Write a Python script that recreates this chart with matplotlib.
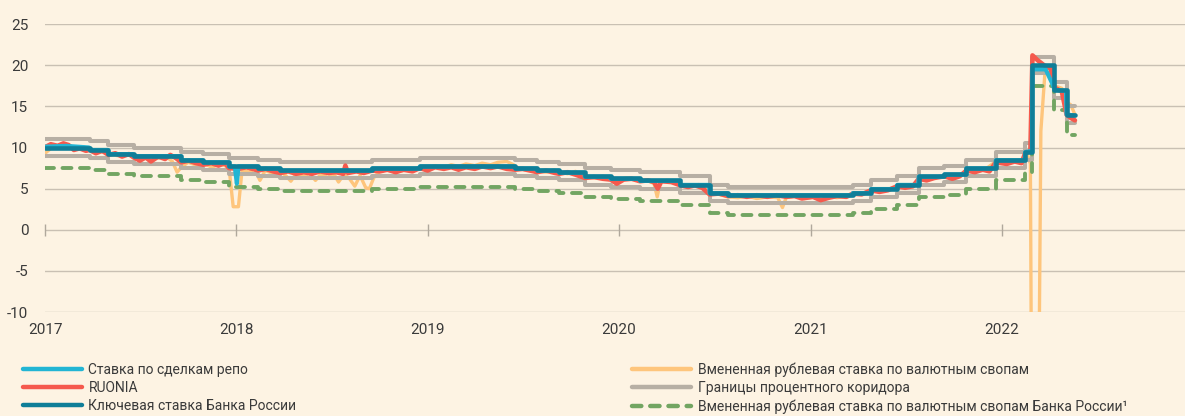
import matplotlib
matplotlib.use("Agg")
import matplotlib.pyplot as plt
import matplotlib.lines as mlines
import pandas as pd

# key rate and corridor (step series)
key_dates = ["2017-01-01", "2017-03-27", "2017-05-02", "2017-06-19", "2017-09-18", "2017-10-30",
             "2017-12-18", "2018-02-12", "2018-03-26", "2018-09-17", "2018-12-17", "2019-06-17",
             "2019-07-29", "2019-09-09", "2019-10-28", "2019-12-16", "2020-02-10", "2020-04-27",
             "2020-06-22", "2020-07-27", "2021-03-22", "2021-04-26", "2021-06-15", "2021-07-26",
             "2021-09-13", "2021-10-25", "2021-12-20", "2022-02-14", "2022-02-28", "2022-04-11",
             "2022-05-04", "2022-05-20"]
key_rate = [10.0, 9.75, 9.25, 9.0, 8.5, 8.25, 7.75, 7.5, 7.25, 7.5, 7.75, 7.5, 7.25, 7.0, 6.5, 6.25,
            6.0, 5.5, 4.5, 4.25, 4.5, 5.0, 5.5, 6.5, 6.75, 7.5, 8.5, 9.5, 20.0, 17.0, 14.0, 14.0]
corridor_upper = [11.0, 10.75, 10.25, 10.0, 9.5, 9.25, 8.75, 8.5, 8.25, 8.5, 8.75, 8.5, 8.25, 8.0, 7.5,
                  7.25, 7.0, 6.5, 5.5, 5.25, 5.5, 6.0, 6.5, 7.5, 7.75, 8.5, 9.5, 10.5, 21.0, 18.0, 15.0, 15.0]
corridor_lower = [9.0, 8.75, 8.25, 8.0, 7.5, 7.25, 6.75, 6.5, 6.25, 6.5, 6.75, 6.5, 6.25, 6.0, 5.5,
                  5.25, 5.0, 4.5, 3.5, 3.25, 3.5, 4.0, 4.5, 5.5, 5.75, 6.5, 7.5, 8.5, 19.0, 16.0, 13.0, 13.0]
cbr_swap = [7.5, 7.25, 6.75, 6.5, 6.0, 5.75, 5.25, 5.0, 4.75, 5.0, 5.25, 5.0, 4.75, 4.5, 4.0, 3.75,
            3.5, 3.0, 2.0, 1.75, 2.0, 2.5, 3.0, 4.0, 4.25, 5.0, 6.0, 7.0, 17.5, 14.5, 11.5, 11.5]

# repo rate
repo_dates = ["2017-01-01", "2017-02-10", "2017-03-26", "2017-03-27", "2017-05-01", "2017-05-02",
              "2017-06-18", "2017-06-19", "2017-09-17", "2017-09-18", "2017-10-29", "2017-10-30",
              "2017-12-17", "2017-12-18", "2017-12-29", "2018-01-02", "2018-01-05", "2018-02-11",
              "2018-02-12", "2018-03-25", "2018-03-26", "2018-09-16", "2018-09-17", "2018-12-16",
              "2018-12-17", "2019-06-16", "2019-06-17", "2019-07-28", "2019-07-29", "2019-09-08",
              "2019-09-09", "2019-10-27", "2019-10-28", "2019-12-15", "2019-12-16", "2020-02-09",
              "2020-02-10", "2020-04-26", "2020-04-27", "2020-06-21", "2020-06-22", "2020-07-26",
              "2020-07-27", "2021-03-21", "2021-03-22", "2021-04-25", "2021-04-26", "2021-06-14",
              "2021-06-15", "2021-07-25", "2021-07-26", "2021-09-12", "2021-09-13", "2021-10-24",
              "2021-10-25", "2021-12-19", "2021-12-20", "2022-02-13", "2022-02-14", "2022-02-27",
              "2022-02-28", "2022-03-25", "2022-04-08", "2022-04-11", "2022-05-03", "2022-05-04",
              "2022-05-20"]
repo_rate = [10.1, 10.2, 10.0, 9.7, 9.7, 9.2, 9.2, 8.95, 8.95, 8.45, 8.45, 8.2, 8.2, 7.7, 7.7, 5.6,
             7.7, 7.7, 7.45, 7.45, 7.2, 7.2, 7.45, 7.45, 7.7, 7.7, 7.45, 7.45, 7.2, 7.2, 6.95, 6.95,
             6.45, 6.45, 6.2, 6.2, 5.95, 5.95, 5.45, 5.45, 4.45, 4.45, 4.2, 4.2, 4.45, 4.45, 4.95,
             4.95, 5.45, 5.45, 6.45, 6.45, 6.7, 6.7, 7.45, 7.45, 8.45, 8.45, 9.45, 9.6, 19.5, 19.5,
             17.6, 17.0, 16.9, 14.0, 13.9]

# RUONIA
ruonia_dates = ["2017-01-03", "2017-01-12", "2017-01-25", "2017-02-05", "2017-02-15", "2017-02-25",
                "2017-03-08", "2017-03-20", "2017-03-27", "2017-04-08", "2017-04-20", "2017-05-02",
                "2017-05-15", "2017-05-28", "2017-06-10", "2017-06-19", "2017-07-01", "2017-07-12",
                "2017-07-22", "2017-08-05", "2017-08-18", "2017-08-28", "2017-09-08", "2017-09-18",
                "2017-10-02", "2017-10-16", "2017-10-30", "2017-11-14", "2017-11-28", "2017-12-10",
                "2017-12-18", "2018-01-05", "2018-01-20", "2018-02-01", "2018-02-12", "2018-02-26",
                "2018-03-12", "2018-03-26", "2018-04-10", "2018-04-25", "2018-05-10", "2018-05-25",
                "2018-06-10", "2018-06-25", "2018-07-10", "2018-07-24", "2018-07-28", "2018-08-02",
                "2018-08-18", "2018-09-01", "2018-09-17", "2018-10-02", "2018-10-16", "2018-11-01",
                "2018-11-16", "2018-12-03", "2018-12-17", "2019-01-01", "2019-01-15", "2019-02-01",
                "2019-02-15", "2019-03-01", "2019-03-15", "2019-04-01", "2019-04-15", "2019-05-01",
                "2019-05-15", "2019-06-01", "2019-06-17", "2019-07-01", "2019-07-15", "2019-07-29",
                "2019-08-15", "2019-09-01", "2019-09-09", "2019-09-25", "2019-10-10", "2019-10-28",
                "2019-11-15", "2019-12-01", "2019-12-16", "2019-12-28", "2020-01-10", "2020-01-25",
                "2020-02-10", "2020-02-25", "2020-03-08", "2020-03-15", "2020-03-22", "2020-04-10",
                "2020-04-27", "2020-05-12", "2020-05-25", "2020-06-08", "2020-06-22", "2020-07-10",
                "2020-07-27", "2020-08-15", "2020-09-01", "2020-09-20", "2020-10-10", "2020-10-28",
                "2020-11-15", "2020-12-01", "2020-12-15", "2021-01-05", "2021-01-20", "2021-02-05",
                "2021-02-20", "2021-03-10", "2021-03-22", "2021-04-08", "2021-04-26", "2021-05-12",
                "2021-05-28", "2021-06-15", "2021-06-30", "2021-07-15", "2021-07-26", "2021-08-10",
                "2021-08-25", "2021-09-13", "2021-09-28", "2021-10-12", "2021-10-25", "2021-11-10",
                "2021-11-25", "2021-12-08", "2021-12-20", "2022-01-10", "2022-01-25", "2022-02-07",
                "2022-02-14", "2022-02-24", "2022-02-28", "2022-03-10", "2022-03-22", "2022-04-04",
                "2022-04-11", "2022-04-25", "2022-05-04", "2022-05-12", "2022-05-20"]
ruonia = [10.1, 10.4, 10.2, 10.5, 10.3, 9.7, 9.9, 9.6, 9.7, 9.3, 9.6, 9.1, 9.3, 8.9, 9.2, 8.8, 8.4,
          8.8, 8.3, 8.9, 8.6, 9.1, 8.7, 8.2, 8.4, 8.1, 7.9, 8.1, 7.8, 8.1, 7.5, 7.4, 7.6, 7.4, 7.2,
          7.4, 7.1, 6.9, 7.1, 6.8, 7.0, 6.8, 7.1, 6.9, 7.0, 6.8, 7.8, 6.9, 7.1, 6.9, 7.2, 7.1, 7.3,
          7.0, 7.3, 7.1, 7.5, 7.2, 7.6, 7.4, 7.6, 7.3, 7.6, 7.4, 7.7, 7.5, 7.7, 7.4, 7.3, 7.4, 7.2,
          7.0, 7.2, 6.9, 6.8, 7.0, 6.7, 6.3, 6.4, 6.2, 6.1, 5.6, 6.1, 6.2, 5.9, 6.0, 5.8, 5.0, 5.9,
          5.8, 5.4, 5.2, 5.4, 5.1, 4.3, 4.4, 4.1, 4.2, 4.0, 4.2, 4.0, 4.2, 4.0, 4.1, 3.8, 4.0, 3.6,
          3.9, 4.1, 4.0, 4.4, 4.3, 4.8, 4.6, 4.8, 5.3, 5.1, 5.3, 6.2, 6.0, 6.3, 6.5, 6.2, 6.5, 7.2,
          7.0, 7.3, 7.1, 8.2, 8.0, 8.3, 8.1, 9.3, 9.6, 21.2, 20.6, 20.0, 19.6, 17.3, 16.8, 14.0,
          13.6, 13.3]

# implied ruble rate from FX swaps
swap_dates = ["2017-01-03", "2017-01-16", "2017-02-01", "2017-02-15", "2017-03-01", "2017-03-15",
              "2017-03-27", "2017-04-12", "2017-04-28", "2017-05-03", "2017-05-20", "2017-06-05",
              "2017-06-19", "2017-07-05", "2017-07-20", "2017-08-05", "2017-08-20", "2017-09-01",
              "2017-09-10", "2017-09-18", "2017-10-01", "2017-10-15", "2017-10-30", "2017-11-15",
              "2017-12-01", "2017-12-18", "2017-12-26", "2018-01-05", "2018-01-12", "2018-01-25",
              "2018-02-05", "2018-02-15", "2018-02-25", "2018-03-10", "2018-03-26", "2018-04-05",
              "2018-04-15", "2018-04-25", "2018-05-10", "2018-05-20", "2018-06-01", "2018-06-12",
              "2018-06-25", "2018-07-05", "2018-07-15", "2018-07-25", "2018-08-05", "2018-08-15",
              "2018-08-25", "2018-09-05", "2018-09-12", "2018-09-20", "2018-10-01", "2018-10-15",
              "2018-11-01", "2018-11-15", "2018-12-01", "2018-12-17", "2019-01-01", "2019-01-15",
              "2019-02-01", "2019-02-15", "2019-03-01", "2019-03-15", "2019-04-01", "2019-04-15",
              "2019-05-01", "2019-05-15", "2019-06-01", "2019-06-14", "2019-06-20", "2019-07-05",
              "2019-07-20", "2019-07-30", "2019-08-15", "2019-08-30", "2019-09-10", "2019-09-25",
              "2019-10-10", "2019-10-28", "2019-11-15", "2019-12-01", "2019-12-16", "2020-01-01",
              "2020-01-15", "2020-02-01", "2020-02-10", "2020-02-25", "2020-03-08", "2020-03-14",
              "2020-03-20", "2020-04-01", "2020-04-15", "2020-04-28", "2020-05-15", "2020-06-01",
              "2020-06-15", "2020-06-22", "2020-07-10", "2020-07-27", "2020-08-15", "2020-09-01",
              "2020-09-20", "2020-10-10", "2020-10-30", "2020-11-08", "2020-11-15", "2020-12-01",
              "2020-12-20", "2021-01-10", "2021-02-01", "2021-02-20", "2021-03-10", "2021-03-22",
              "2021-04-10", "2021-04-26", "2021-05-15", "2021-06-01", "2021-06-15", "2021-07-01",
              "2021-07-15", "2021-07-26", "2021-08-10", "2021-08-25", "2021-09-13", "2021-10-01",
              "2021-10-15", "2021-10-25", "2021-11-15", "2021-12-01", "2021-12-20", "2022-01-10",
              "2022-01-25", "2022-02-10", "2022-02-18", "2022-02-24", "2022-02-28", "2022-03-09",
              "2022-03-16", "2022-03-24", "2022-04-05", "2022-04-11", "2022-04-25", "2022-05-04",
              "2022-05-12", "2022-05-20"]
swap_rate = [9.4, 10.1, 10.3, 10.0, 9.8, 10.1, 9.7, 9.4, 9.6, 9.2, 9.0, 9.2, 8.9, 8.6, 8.9, 8.7,
             8.9, 8.3, 7.0, 7.6, 8.2, 7.9, 8.1, 7.6, 8.0, 7.6, 2.8, 2.8, 7.3, 7.0, 7.4, 6.0, 7.2, 6.9,
             7.1, 6.6, 5.9, 6.8, 6.5, 6.9, 6.0, 6.8, 6.3, 6.9, 5.8, 6.7, 6.2, 5.3, 6.6, 5.1, 5.0, 6.3,
             7.1, 7.3, 7.0, 7.2, 7.3, 7.6, 7.5, 7.8, 7.6, 7.9, 7.7, 8.0, 7.8, 8.1, 7.9, 8.2, 8.3, 7.9,
             7.6, 7.3, 7.5, 7.2, 7.0, 7.3, 7.0, 6.8, 7.1, 6.5, 6.3, 6.5, 6.2, 6.1, 6.3, 6.1, 5.9, 6.0,
             5.6, 4.0, 5.8, 6.0, 5.9, 5.5, 5.3, 5.5, 5.2, 4.4, 4.3, 4.0, 3.9, 4.1, 3.8, 4.0, 3.9, 2.7,
             3.9, 4.1, 3.8, 4.0, 4.1, 3.9, 4.1, 4.3, 4.4, 4.8, 4.7, 4.9, 5.3, 5.4, 5.2, 6.2, 6.0, 6.3,
             6.5, 6.4, 6.6, 7.3, 7.2, 7.4, 8.3, 8.2, 8.4, 8.3, 9.2, 8.0, -45.0, -45.0, 12.0, 19.3,
             19.8, 17.5, 17.2, 15.5, 15.2, 14.0]

labels_left = ["Ставка по сделкам репо", "RUONIA", "Ключевая ставка Банка России"]
labels_right = ["Вмененная рублевая ставка по валютным свопам", "Границы процентного коридора",
                "Вмененная рублевая ставка по валютным свопам Банка России¹"]
years = [2017, 2018, 2019, 2020, 2021, 2022]
y_ticks = [-10, -5, 0, 5, 10, 15, 20, 25]

BG = "#FDF3E3"
GRID = "#C9C0B3"
TEXT = "#3A3A3A"
C_REPO = "#22B5D4"
C_RU = "#F5594D"
C_KEY = "#0F7E98"
C_SWAP = "#FEC57C"
C_COR = "#B7AFA4"
C_CBR = "#72A562"

plt.rcParams["font.family"] = ["Roboto", "DejaVu Sans"]

fig = plt.figure(figsize=(11.85, 4.16), dpi=100, facecolor=BG)
ax = fig.add_axes([0.038, 0.25, 0.962, 0.692])
ax.set_facecolor(BG)

kd = pd.to_datetime(key_dates)
common = dict(solid_capstyle="round", solid_joinstyle="round")

ax.plot(pd.to_datetime(swap_dates), swap_rate, color=C_SWAP, lw=2.4, zorder=3, **common)
ax.plot(kd, corridor_upper, drawstyle="steps-post", color=C_COR, lw=2.9, zorder=4, **common)
ax.plot(kd, corridor_lower, drawstyle="steps-post", color=C_COR, lw=2.9, zorder=4, **common)
ax.plot(kd, cbr_swap, drawstyle="steps-post", color=C_CBR, lw=2.8, zorder=5,
        dashes=(2.3, 2.2), dash_capstyle="round")
ax.plot(pd.to_datetime(ruonia_dates), ruonia, color=C_RU, lw=3.3, zorder=6, **common)
ax.plot(pd.to_datetime(repo_dates), repo_rate, color=C_REPO, lw=3.0, zorder=7, **common)
ax.plot(kd, key_rate, drawstyle="steps-post", color=C_KEY, lw=3.3, zorder=8, **common)

# legend handles
h_repo = mlines.Line2D([], [], color=C_REPO, lw=3.2, solid_capstyle="round")
h_ru = mlines.Line2D([], [], color=C_RU, lw=3.2, solid_capstyle="round")
h_key = mlines.Line2D([], [], color=C_KEY, lw=3.2, solid_capstyle="round")
h_swap = mlines.Line2D([], [], color=C_SWAP, lw=3.2, solid_capstyle="round")
h_cor = mlines.Line2D([], [], color=C_COR, lw=3.2, solid_capstyle="round")
h_cbr = mlines.Line2D([], [], color=C_CBR, lw=3.2, dashes=(2.1, 2.0), dash_capstyle="round")

ax.set_ylim(-10, 25)
ax.set_xlim(pd.Timestamp("2017-01-01"), pd.Timestamp("2022-12-16"))
ax.set_yticks(y_ticks)
ax.set_yticklabels([str(v) for v in y_ticks])
year_dates = pd.to_datetime([f"{y}-01-01" for y in years])
ax.set_xticks(year_dates)
ax.set_xticklabels([str(y) for y in years])
ax.tick_params(axis="both", length=0, labelsize=11, colors=TEXT)
ax.tick_params(axis="y", pad=12)
ax.tick_params(axis="x", pad=8)
ax.grid(axis="y", color=GRID, lw=1.0)
ax.set_axisbelow(True)
for s in ax.spines.values():
    s.set_visible(False)

# small year ticks on the zero line
ax.plot(year_dates, [0] * len(years), ls="none", marker="|", ms=8, mew=1.0, color="#B0A89C",
        zorder=2, clip_on=False)

leg_kw = dict(frameon=False, fontsize=10, handlelength=4.3, handletextpad=0.45,
              labelspacing=0.28, borderpad=0, borderaxespad=0, labelcolor=TEXT, loc="upper left")
fig.legend([h_repo, h_ru, h_key], labels_left, bbox_to_anchor=(0.019, 0.128), **leg_kw)
fig.legend([h_swap, h_cor, h_cbr], labels_right, bbox_to_anchor=(0.533, 0.128), **leg_kw)

fig.savefig("out.png", dpi=100, facecolor=BG)
